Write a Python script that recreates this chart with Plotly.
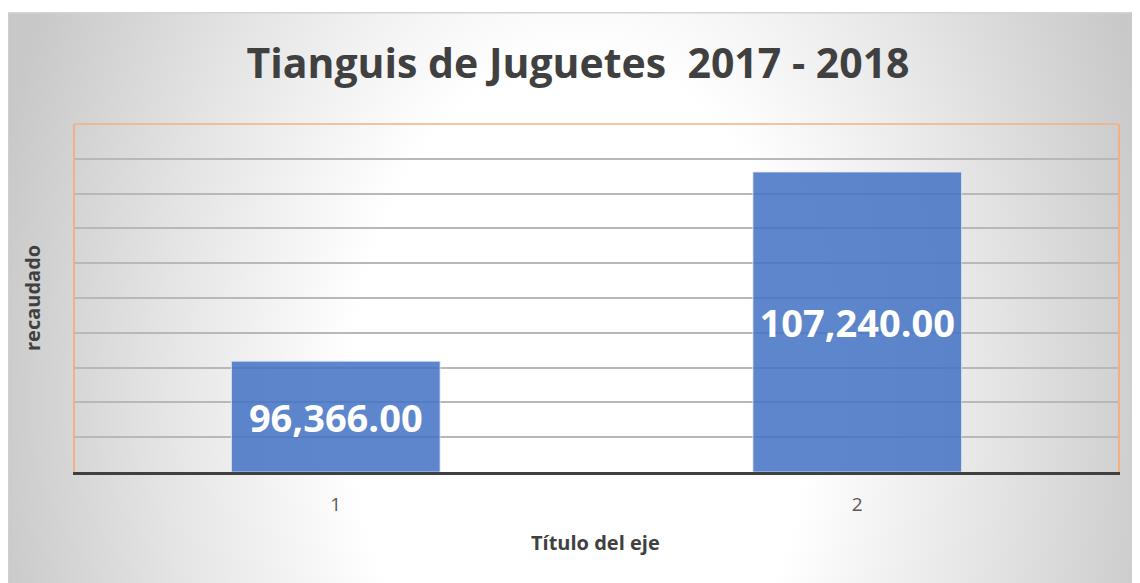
import base64
import plotly.graph_objects as go

# ---- data ----
categories = ["1", "2"]
values = [96366.00, 107240.00]
y_min, y_max, y_step = 90000, 110000, 2000
chart_title = "Tianguis de Juguetes\u00a0 2017 - 2018"
x_title = "Título del eje"
y_title = "recaudado"

# ---- layout geometry (pixels; page has an 8px body margin) ----
OFF = 8
W, H = 1140 - OFF, 583 - OFF
ML, MR, MT, MB = 75 - OFF, 22, 124 - OFF, 111
PW, PH = W - ML - MR, H - MT - MB


def px_x(px):  # page pixel -> paper fraction
    return (px - OFF - ML) / PW


def px_y(py):
    return (H - MB - (py - OFF)) / PH


# chart-area background: radial grey gradient, as an SVG image
box_x0, box_y0 = 7, 12
box_w, box_h = 1140 - box_x0, 583 - box_y0
cx, cy = 580 - box_x0, 400 - box_y0
svg = f'''<svg xmlns="http://www.w3.org/2000/svg" width="{box_w}" height="{box_h}" viewBox="0 0 {box_w} {box_h}" preserveAspectRatio="none">
<defs><radialGradient id="g" gradientUnits="userSpaceOnUse" cx="{cx}" cy="{cy}" r="600"
 gradientTransform="translate({cx} {cy}) scale(1 1.5) translate({-cx} {-cy})">
<stop offset="0" stop-color="#ffffff"/><stop offset="0.38" stop-color="#ffffff"/>
<stop offset="0.7" stop-color="#e4e4e4"/><stop offset="1" stop-color="#c8c8c8"/>
</radialGradient></defs>
<rect x="0" y="0" width="{box_w}" height="{box_h}" fill="url(#g)"/>
<rect x="0.75" y="0.75" width="{box_w}" height="{box_h}" fill="none" stroke="#d4d4d4" stroke-width="1.5"/>
</svg>'''
bg_src = "data:image/svg+xml;base64," + base64.b64encode(svg.encode()).decode()

fig = go.Figure()
fig.add_trace(go.Bar(
    x=categories,
    y=[v - y_min for v in values],
    base=y_min,
    text=[f"{v:,.2f}" for v in values],
    textposition="inside",
    insidetextanchor="middle",
    textfont=dict(family="Open Sans", size=38, color="white", weight="bold"),
    marker=dict(color="rgba(68,114,196,0.86)",
                line=dict(color="rgba(220,230,245,0.8)", width=1)),
    hoverinfo="skip",
))

fig.update_layout(
    width=W, height=H,
    margin=dict(l=ML, r=MR, t=MT, b=MB, pad=0),
    paper_bgcolor="white",
    plot_bgcolor="rgba(0,0,0,0)",
    showlegend=False,
    bargap=0.6,
    title=dict(text=chart_title, x=(578 - OFF) / W, xanchor="center",
               y=1 - (64 - OFF) / H, yanchor="middle",
               font=dict(family="Open Sans", size=41, color="#404040", weight="bold")),
    xaxis=dict(
        showline=True, linecolor="#404040", linewidth=3,
        ticks="", showgrid=False, zeroline=False,
        tickfont=dict(family="Open Sans", size=19, color="#595959"),
        ticklabelstandoff=13,
    ),
    yaxis=dict(
        range=[y_min, y_max], tick0=y_min, dtick=y_step,
        showticklabels=False, ticks="",
        showgrid=True, gridcolor="#b8b8b8", gridwidth=1.5,
        zeroline=False,
        showline=True, mirror=True, linecolor="#f4b084", linewidth=1.5,
    ),
    images=[dict(source=bg_src, xref="paper", yref="paper",
                 x=px_x(box_x0), y=px_y(box_y0),
                 sizex=box_w / PW, sizey=box_h / PH,
                 xanchor="left", yanchor="top", sizing="stretch",
                 layer="below")],
    shapes=[dict(type="line", xref="paper", yref="paper",
                 x0=0, x1=1, y0=1, y1=1,
                 line=dict(color="#f4b084", width=1.5))],
    annotations=[
        dict(text=x_title, xref="paper", yref="paper",
             x=px_x(595), y=px_y(542), xanchor="center", yanchor="middle",
             showarrow=False,
             font=dict(family="Open Sans", size=20, color="#404040", weight="bold")),
        dict(text=y_title, xref="paper", yref="paper",
             x=px_x(32), y=px_y(298), xanchor="center", yanchor="middle",
             textangle=-90, showarrow=False,
             font=dict(family="Open Sans", size=20, color="#404040", weight="bold")),
    ],
)

fig.write_html("out.html")
